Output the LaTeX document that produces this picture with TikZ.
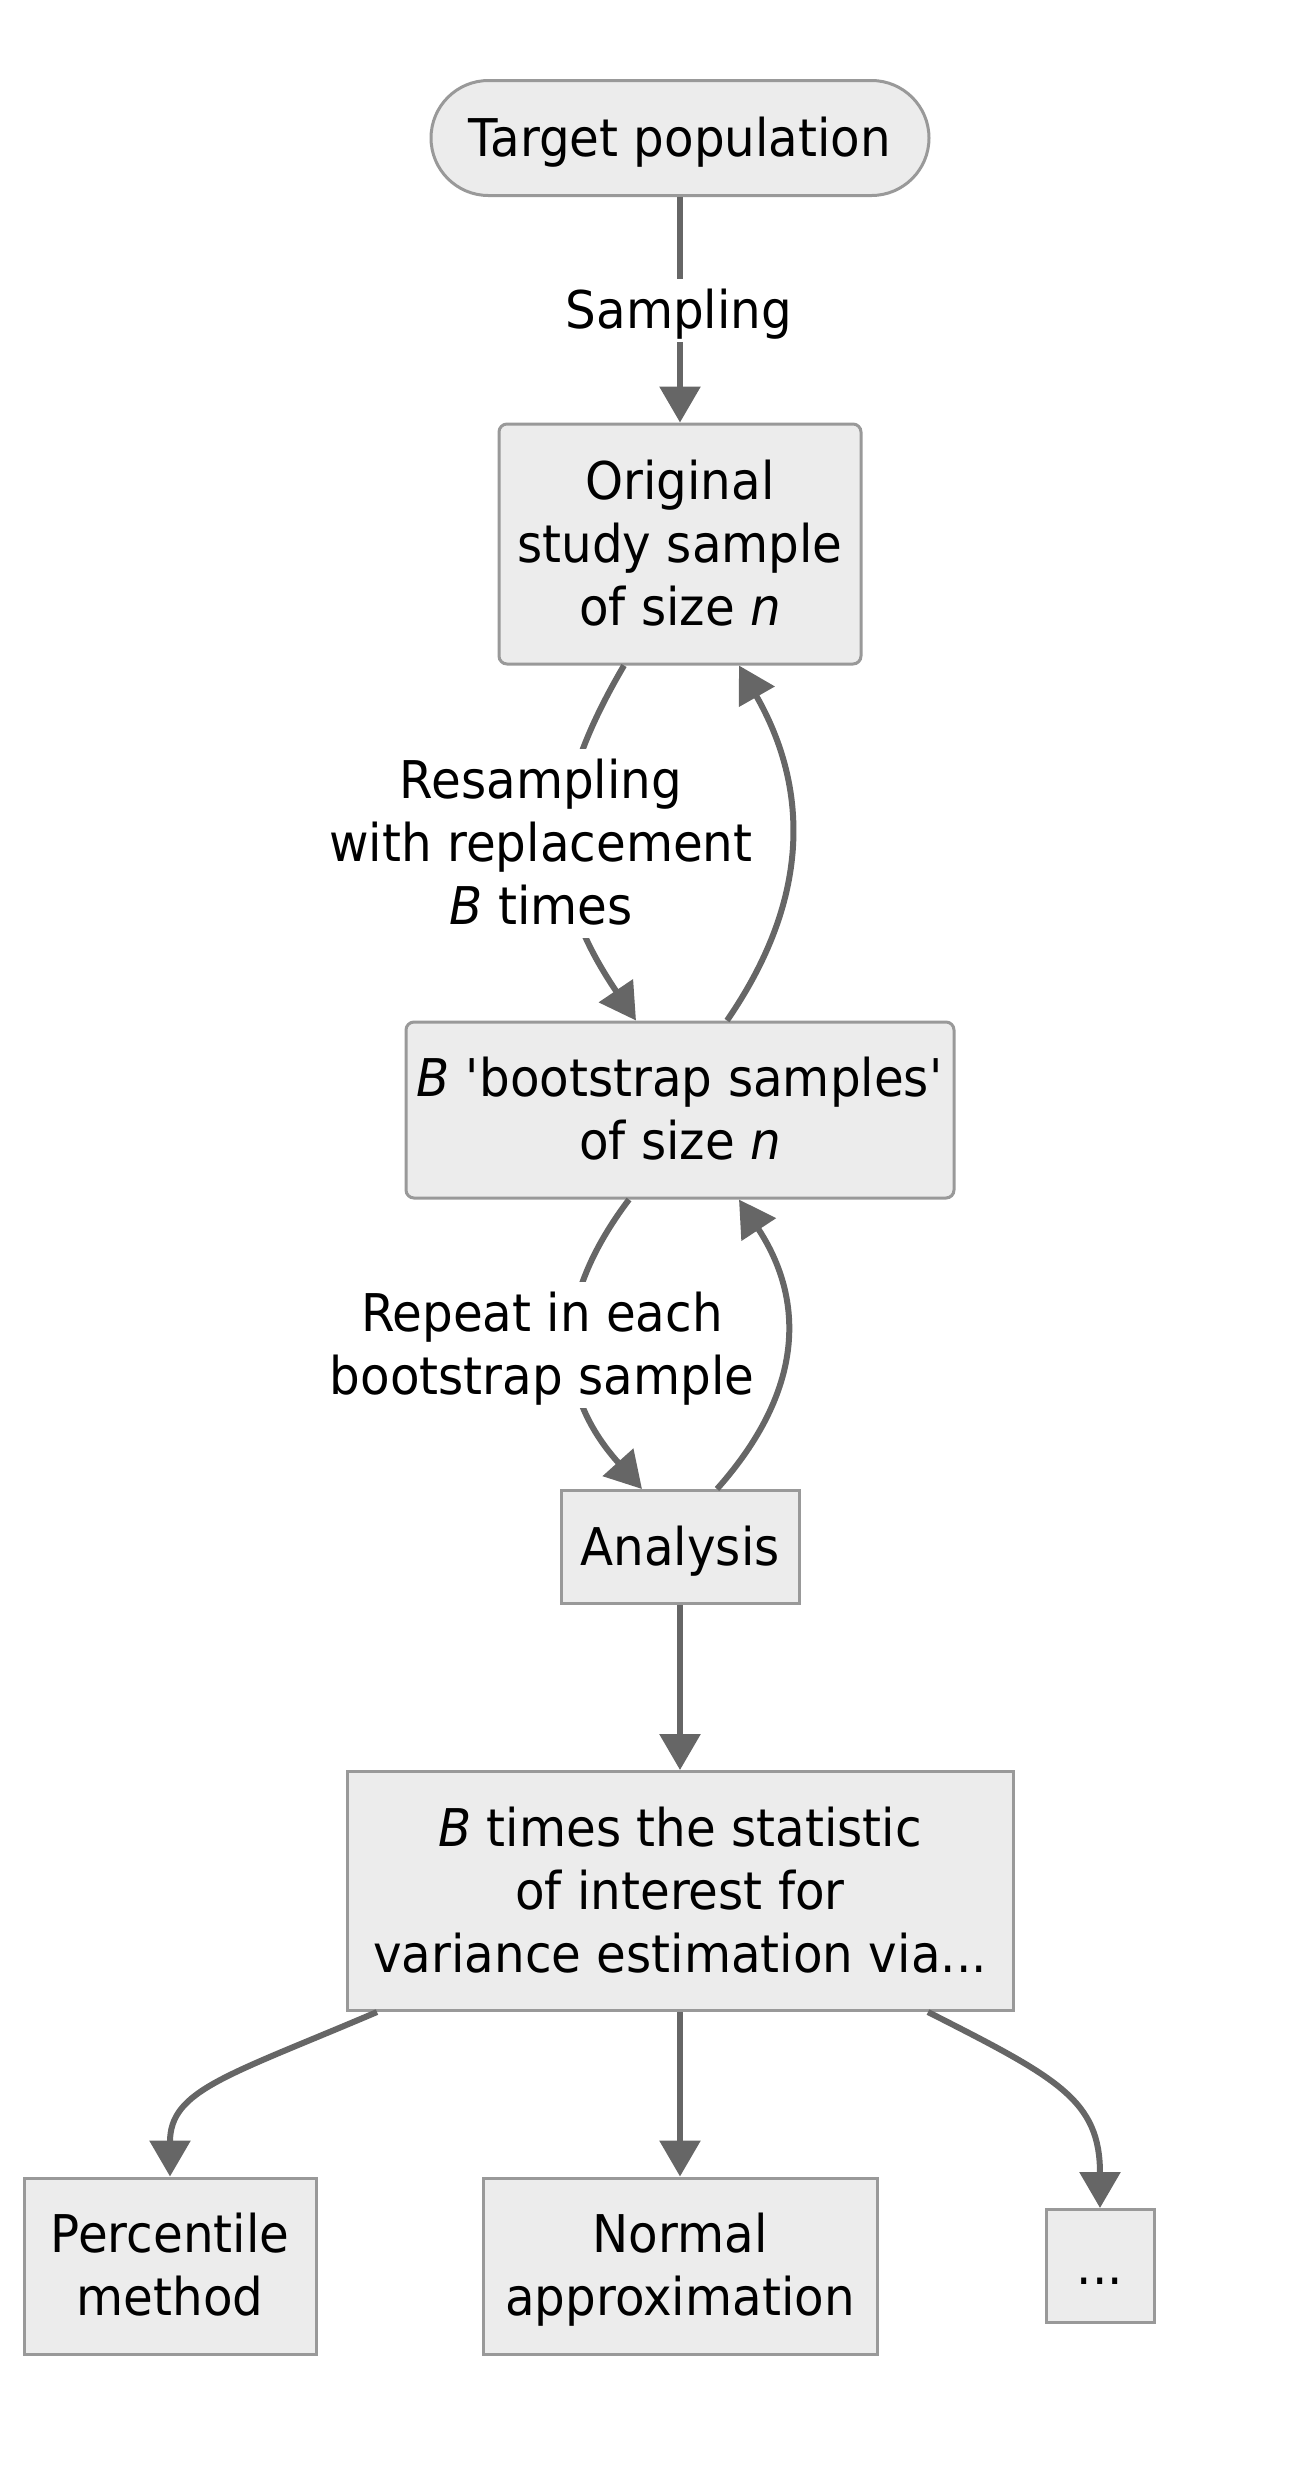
\documentclass[tikz,border=0pt]{standalone}
\usepackage{fontspec}
\setmainfont{DejaVu Sans}[FakeStretch=0.93]
\usetikzlibrary{arrows.meta}
\definecolor{boxfill}{HTML}{ECECEC}
\definecolor{boxdraw}{HTML}{999999}
\definecolor{edgecol}{HTML}{666666}
\newcommand\ls{\rule[-6.75pt]{0pt}{31.5pt}}
\begin{document}
\begin{tikzpicture}[x=0.5pt,y=-0.5pt,
  every node/.style={font=\fontsize{26}{31.5}\selectfont, align=center},
  box/.style={draw=boxdraw, fill=boxfill, line width=1.5pt, inner sep=0pt},
  lbl/.style={fill=white, inner xsep=2pt, inner ysep=0pt},
  conn/.style={draw=edgecol, line width=3pt, -{Triangle[length=18pt,width=20pt]}}]
\useasboundingbox (0,0) rectangle (1316,2465);
% nodes
\node[box, rounded corners=28.75pt, minimum width=249pt, minimum height=57.5pt] (tp) at (680,138) {\ls Target population};
\node[box, rounded corners=4pt, minimum width=181pt, minimum height=120pt] (orig) at (680,544) {\ls Original\\\ls study sample\\\ls of size {\itshape n}};
\node[box, rounded corners=4pt, minimum width=274pt, minimum height=88pt] (boot) at (680,1110) {\ls{\itshape B} \textquotesingle bootstrap samples\textquotesingle\\\ls of size {\itshape n}};
\node[box, minimum width=119pt, minimum height=56.5pt] (ana) at (680,1547) {\ls Analysis};
\node[box, minimum width=333pt, minimum height=119.5pt] (stat) at (680,1891) {\ls{\itshape B} times the statistic\\\ls of interest for\\\ls variance estimation via...};
\node[box, minimum width=146pt, minimum height=88pt] (perc) at (170,2266) {\ls Percentile\\\ls method};
\node[box, minimum width=197pt, minimum height=88pt] (norm) at (680,2266) {\ls Normal\\\ls approximation};
\node[box, minimum width=54pt, minimum height=56.5pt] (dots) at (1100,2266) {\ls...};
% connectors
\draw[conn] (tp.south) -- (orig.north);
\draw[conn] ([xshift=-28pt]orig.south) .. controls (545,800) and (545,886) .. ([xshift=-22pt]boot.north);
\draw[conn] ([xshift=23.5pt]boot.north) .. controls (810,900) and (810,790) .. ([xshift=29.5pt]orig.south);
\draw[conn] ([xshift=-25.5pt]boot.south) .. controls (553,1300) and (553,1390) .. ([xshift=-19pt]ana.north);
\draw[conn] ([xshift=18.5pt]ana.north) .. controls (805,1390) and (805,1300) .. ([xshift=29.5pt]boot.south);
\draw[conn] (ana.south) -- (stat.north);
\draw[conn] ([xshift=-151.5pt]stat.south) .. controls (227,2076) and (170,2090) .. (perc.north);
\draw[conn] (stat.south) -- (norm.north);
\draw[conn] ([xshift=124pt]stat.south) .. controls (1058,2078) and (1100,2100) .. (dots.north);
% edge labels
\node[lbl] (l1) at (679,310) {\ls Sampling};
\node[lbl] (l2) at (541,843) {\ls Resampling\\\ls with replacement\\\ls{\itshape B} times};
\node[lbl] (l3) at (542,1345) {\ls Repeat in each\\\ls bootstrap sample};
\end{tikzpicture}
\end{document}
